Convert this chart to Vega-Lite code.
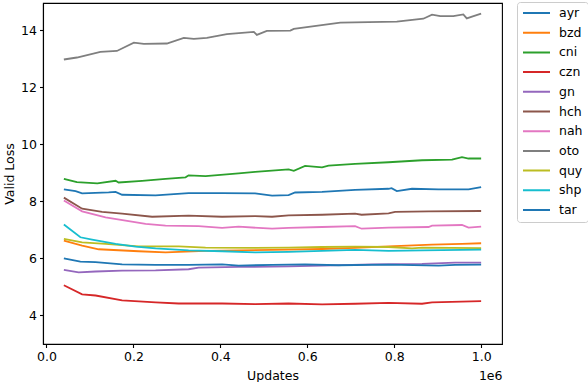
{
  "$schema": "https://vega.github.io/schema/vega-lite/v6.json",
  "autosize": {"type": "none"},
  "padding": {"left": 43, "top": 3, "right": 86, "bottom": 38},
  "width": 459,
  "height": 341,
  "background": "white",
  "config": {
    "font": "DejaVu Sans",
    "view": {"stroke": "black", "strokeWidth": 1.1},
    "axis": {
      "grid": false,
      "domainColor": "black",
      "domainWidth": 1.1,
      "tickColor": "black",
      "tickWidth": 1.1,
      "tickSize": 3.5,
      "labelFont": "DejaVu Sans",
      "labelFontSize": 12.5,
      "labelColor": "black",
      "labelPadding": 3,
      "titleFont": "DejaVu Sans",
      "titleFontSize": 12.5,
      "titleFontWeight": "normal",
      "titleColor": "black"
    },
    "legend": {
      "labelFont": "DejaVu Sans",
      "labelFontSize": 12.5,
      "labelColor": "black"
    }
  },
  "data": {
    "values": [
      {"lang": "ayr", "updates": 40000, "loss": 8.42},
      {"lang": "ayr", "updates": 67000, "loss": 8.36},
      {"lang": "ayr", "updates": 82000, "loss": 8.28},
      {"lang": "ayr", "updates": 143000, "loss": 8.31},
      {"lang": "ayr", "updates": 159000, "loss": 8.33},
      {"lang": "ayr", "updates": 174000, "loss": 8.23},
      {"lang": "ayr", "updates": 251000, "loss": 8.21},
      {"lang": "ayr", "updates": 327000, "loss": 8.29},
      {"lang": "ayr", "updates": 404000, "loss": 8.29},
      {"lang": "ayr", "updates": 480000, "loss": 8.28},
      {"lang": "ayr", "updates": 519000, "loss": 8.2},
      {"lang": "ayr", "updates": 557000, "loss": 8.22},
      {"lang": "ayr", "updates": 572000, "loss": 8.31},
      {"lang": "ayr", "updates": 634000, "loss": 8.33},
      {"lang": "ayr", "updates": 710000, "loss": 8.4},
      {"lang": "ayr", "updates": 787000, "loss": 8.44},
      {"lang": "ayr", "updates": 794000, "loss": 8.46},
      {"lang": "ayr", "updates": 806000, "loss": 8.36},
      {"lang": "ayr", "updates": 841000, "loss": 8.44},
      {"lang": "ayr", "updates": 902000, "loss": 8.42},
      {"lang": "ayr", "updates": 971000, "loss": 8.42},
      {"lang": "ayr", "updates": 1000000, "loss": 8.5},

      {"lang": "bzd", "updates": 40000, "loss": 6.62},
      {"lang": "bzd", "updates": 82000, "loss": 6.45},
      {"lang": "bzd", "updates": 120000, "loss": 6.32},
      {"lang": "bzd", "updates": 212000, "loss": 6.25},
      {"lang": "bzd", "updates": 274000, "loss": 6.21},
      {"lang": "bzd", "updates": 366000, "loss": 6.26},
      {"lang": "bzd", "updates": 442000, "loss": 6.28},
      {"lang": "bzd", "updates": 519000, "loss": 6.3},
      {"lang": "bzd", "updates": 634000, "loss": 6.33},
      {"lang": "bzd", "updates": 710000, "loss": 6.37},
      {"lang": "bzd", "updates": 787000, "loss": 6.42},
      {"lang": "bzd", "updates": 887000, "loss": 6.48},
      {"lang": "bzd", "updates": 956000, "loss": 6.51},
      {"lang": "bzd", "updates": 1000000, "loss": 6.53},

      {"lang": "cni", "updates": 40000, "loss": 8.79},
      {"lang": "cni", "updates": 70000, "loss": 8.67},
      {"lang": "cni", "updates": 117000, "loss": 8.63},
      {"lang": "cni", "updates": 159000, "loss": 8.72},
      {"lang": "cni", "updates": 166000, "loss": 8.66},
      {"lang": "cni", "updates": 220000, "loss": 8.72},
      {"lang": "cni", "updates": 274000, "loss": 8.79},
      {"lang": "cni", "updates": 320000, "loss": 8.84},
      {"lang": "cni", "updates": 327000, "loss": 8.91},
      {"lang": "cni", "updates": 366000, "loss": 8.88},
      {"lang": "cni", "updates": 442000, "loss": 8.98},
      {"lang": "cni", "updates": 480000, "loss": 9.03},
      {"lang": "cni", "updates": 557000, "loss": 9.12},
      {"lang": "cni", "updates": 569000, "loss": 9.07},
      {"lang": "cni", "updates": 595000, "loss": 9.24},
      {"lang": "cni", "updates": 634000, "loss": 9.19},
      {"lang": "cni", "updates": 649000, "loss": 9.25},
      {"lang": "cni", "updates": 710000, "loss": 9.31},
      {"lang": "cni", "updates": 787000, "loss": 9.37},
      {"lang": "cni", "updates": 864000, "loss": 9.44},
      {"lang": "cni", "updates": 933000, "loss": 9.46},
      {"lang": "cni", "updates": 956000, "loss": 9.55},
      {"lang": "cni", "updates": 971000, "loss": 9.5},
      {"lang": "cni", "updates": 1000000, "loss": 9.5},

      {"lang": "czn", "updates": 40000, "loss": 5.06},
      {"lang": "czn", "updates": 82000, "loss": 4.74},
      {"lang": "czn", "updates": 113000, "loss": 4.7},
      {"lang": "czn", "updates": 174000, "loss": 4.53},
      {"lang": "czn", "updates": 251000, "loss": 4.46},
      {"lang": "czn", "updates": 304000, "loss": 4.42},
      {"lang": "czn", "updates": 404000, "loss": 4.42},
      {"lang": "czn", "updates": 480000, "loss": 4.4},
      {"lang": "czn", "updates": 557000, "loss": 4.42},
      {"lang": "czn", "updates": 634000, "loss": 4.39},
      {"lang": "czn", "updates": 710000, "loss": 4.41},
      {"lang": "czn", "updates": 787000, "loss": 4.44},
      {"lang": "czn", "updates": 864000, "loss": 4.41},
      {"lang": "czn", "updates": 887000, "loss": 4.46},
      {"lang": "czn", "updates": 1000000, "loss": 4.5},

      {"lang": "gn", "updates": 40000, "loss": 5.6},
      {"lang": "gn", "updates": 74000, "loss": 5.51},
      {"lang": "gn", "updates": 113000, "loss": 5.54},
      {"lang": "gn", "updates": 174000, "loss": 5.57},
      {"lang": "gn", "updates": 251000, "loss": 5.58},
      {"lang": "gn", "updates": 327000, "loss": 5.62},
      {"lang": "gn", "updates": 350000, "loss": 5.68},
      {"lang": "gn", "updates": 442000, "loss": 5.7},
      {"lang": "gn", "updates": 557000, "loss": 5.72},
      {"lang": "gn", "updates": 634000, "loss": 5.75},
      {"lang": "gn", "updates": 749000, "loss": 5.79},
      {"lang": "gn", "updates": 864000, "loss": 5.81},
      {"lang": "gn", "updates": 940000, "loss": 5.85},
      {"lang": "gn", "updates": 1000000, "loss": 5.85},

      {"lang": "hch", "updates": 40000, "loss": 8.13},
      {"lang": "hch", "updates": 82000, "loss": 7.74},
      {"lang": "hch", "updates": 128000, "loss": 7.63},
      {"lang": "hch", "updates": 174000, "loss": 7.57},
      {"lang": "hch", "updates": 243000, "loss": 7.46},
      {"lang": "hch", "updates": 327000, "loss": 7.5},
      {"lang": "hch", "updates": 404000, "loss": 7.46},
      {"lang": "hch", "updates": 480000, "loss": 7.48},
      {"lang": "hch", "updates": 519000, "loss": 7.46},
      {"lang": "hch", "updates": 557000, "loss": 7.51},
      {"lang": "hch", "updates": 634000, "loss": 7.53},
      {"lang": "hch", "updates": 710000, "loss": 7.57},
      {"lang": "hch", "updates": 725000, "loss": 7.53},
      {"lang": "hch", "updates": 787000, "loss": 7.58},
      {"lang": "hch", "updates": 802000, "loss": 7.63},
      {"lang": "hch", "updates": 879000, "loss": 7.65},
      {"lang": "hch", "updates": 1000000, "loss": 7.66},

      {"lang": "nah", "updates": 40000, "loss": 8.03},
      {"lang": "nah", "updates": 82000, "loss": 7.65},
      {"lang": "nah", "updates": 136000, "loss": 7.44},
      {"lang": "nah", "updates": 228000, "loss": 7.21},
      {"lang": "nah", "updates": 274000, "loss": 7.15},
      {"lang": "nah", "updates": 350000, "loss": 7.13},
      {"lang": "nah", "updates": 404000, "loss": 7.07},
      {"lang": "nah", "updates": 442000, "loss": 7.11},
      {"lang": "nah", "updates": 519000, "loss": 7.04},
      {"lang": "nah", "updates": 557000, "loss": 7.07},
      {"lang": "nah", "updates": 634000, "loss": 7.1},
      {"lang": "nah", "updates": 710000, "loss": 7.13},
      {"lang": "nah", "updates": 725000, "loss": 7.04},
      {"lang": "nah", "updates": 787000, "loss": 7.08},
      {"lang": "nah", "updates": 879000, "loss": 7.1},
      {"lang": "nah", "updates": 887000, "loss": 7.15},
      {"lang": "nah", "updates": 956000, "loss": 7.17},
      {"lang": "nah", "updates": 971000, "loss": 7.08},
      {"lang": "nah", "updates": 1000000, "loss": 7.11},

      {"lang": "oto", "updates": 40000, "loss": 12.97},
      {"lang": "oto", "updates": 70000, "loss": 13.04},
      {"lang": "oto", "updates": 124000, "loss": 13.24},
      {"lang": "oto", "updates": 162000, "loss": 13.27},
      {"lang": "oto", "updates": 201000, "loss": 13.56},
      {"lang": "oto", "updates": 224000, "loss": 13.52},
      {"lang": "oto", "updates": 277000, "loss": 13.53},
      {"lang": "oto", "updates": 316000, "loss": 13.73},
      {"lang": "oto", "updates": 339000, "loss": 13.69},
      {"lang": "oto", "updates": 369000, "loss": 13.73},
      {"lang": "oto", "updates": 415000, "loss": 13.86},
      {"lang": "oto", "updates": 477000, "loss": 13.94},
      {"lang": "oto", "updates": 484000, "loss": 13.83},
      {"lang": "oto", "updates": 507000, "loss": 13.97},
      {"lang": "oto", "updates": 561000, "loss": 13.98},
      {"lang": "oto", "updates": 569000, "loss": 14.04},
      {"lang": "oto", "updates": 676000, "loss": 14.26},
      {"lang": "oto", "updates": 806000, "loss": 14.3},
      {"lang": "oto", "updates": 867000, "loss": 14.4},
      {"lang": "oto", "updates": 887000, "loss": 14.54},
      {"lang": "oto", "updates": 906000, "loss": 14.49},
      {"lang": "oto", "updates": 936000, "loss": 14.49},
      {"lang": "oto", "updates": 959000, "loss": 14.55},
      {"lang": "oto", "updates": 967000, "loss": 14.41},
      {"lang": "oto", "updates": 979000, "loss": 14.47},
      {"lang": "oto", "updates": 1000000, "loss": 14.58},

      {"lang": "quy", "updates": 40000, "loss": 6.68},
      {"lang": "quy", "updates": 82000, "loss": 6.56},
      {"lang": "quy", "updates": 136000, "loss": 6.51},
      {"lang": "quy", "updates": 212000, "loss": 6.42},
      {"lang": "quy", "updates": 304000, "loss": 6.42},
      {"lang": "quy", "updates": 366000, "loss": 6.38},
      {"lang": "quy", "updates": 480000, "loss": 6.37},
      {"lang": "quy", "updates": 557000, "loss": 6.38},
      {"lang": "quy", "updates": 634000, "loss": 6.4},
      {"lang": "quy", "updates": 710000, "loss": 6.41},
      {"lang": "quy", "updates": 787000, "loss": 6.4},
      {"lang": "quy", "updates": 841000, "loss": 6.35},
      {"lang": "quy", "updates": 864000, "loss": 6.38},
      {"lang": "quy", "updates": 1000000, "loss": 6.36},

      {"lang": "shp", "updates": 40000, "loss": 7.19},
      {"lang": "shp", "updates": 78000, "loss": 6.74},
      {"lang": "shp", "updates": 105000, "loss": 6.66},
      {"lang": "shp", "updates": 159000, "loss": 6.51},
      {"lang": "shp", "updates": 205000, "loss": 6.41},
      {"lang": "shp", "updates": 251000, "loss": 6.35},
      {"lang": "shp", "updates": 327000, "loss": 6.28},
      {"lang": "shp", "updates": 404000, "loss": 6.25},
      {"lang": "shp", "updates": 480000, "loss": 6.21},
      {"lang": "shp", "updates": 557000, "loss": 6.23},
      {"lang": "shp", "updates": 634000, "loss": 6.26},
      {"lang": "shp", "updates": 710000, "loss": 6.3},
      {"lang": "shp", "updates": 787000, "loss": 6.26},
      {"lang": "shp", "updates": 864000, "loss": 6.28},
      {"lang": "shp", "updates": 1000000, "loss": 6.31},

      {"lang": "tar", "updates": 40000, "loss": 6.0},
      {"lang": "tar", "updates": 78000, "loss": 5.89},
      {"lang": "tar", "updates": 113000, "loss": 5.87},
      {"lang": "tar", "updates": 174000, "loss": 5.79},
      {"lang": "tar", "updates": 251000, "loss": 5.77},
      {"lang": "tar", "updates": 327000, "loss": 5.77},
      {"lang": "tar", "updates": 404000, "loss": 5.79},
      {"lang": "tar", "updates": 442000, "loss": 5.75},
      {"lang": "tar", "updates": 519000, "loss": 5.77},
      {"lang": "tar", "updates": 595000, "loss": 5.79},
      {"lang": "tar", "updates": 672000, "loss": 5.76},
      {"lang": "tar", "updates": 787000, "loss": 5.78},
      {"lang": "tar", "updates": 902000, "loss": 5.75},
      {"lang": "tar", "updates": 940000, "loss": 5.77},
      {"lang": "tar", "updates": 1000000, "loss": 5.78}
    ]
  },
  "layer": [
    {
      "mark": {"type": "line", "strokeWidth": 1.8, "clip": true},
      "encoding": {
        "x": {
          "field": "updates",
          "type": "quantitative",
          "scale": {"domain": [-8000, 1048000], "nice": false, "zero": false},
          "axis": {
            "title": "Updates",
            "values": [0, 200000, 400000, 600000, 800000, 1000000],
            "labelExpr": "format(datum.value / 1000000, '.1f')",
            "titleY": 35,
            "titleBaseline": "alphabetic"
          }
        },
        "y": {
          "field": "loss",
          "type": "quantitative",
          "scale": {"domain": [3, 14.95], "nice": false, "zero": false},
          "axis": {
            "title": "Valid Loss",
            "values": [4, 6, 8, 10, 12, 14],
            "titleAngle": 270,
            "titleX": -30,
            "titleY": 170.5,
            "titleAlign": "center",
            "titleBaseline": "alphabetic"
          }
        },
        "color": {
          "field": "lang",
          "type": "nominal",
          "scale": {
            "domain": ["ayr", "bzd", "cni", "czn", "gn", "hch", "nah", "oto", "quy", "shp", "tar"],
            "range": ["#1f77b4", "#ff7f0e", "#2ca02c", "#d62728", "#9467bd", "#8c564b", "#e377c2", "#7f7f7f", "#bcbd22", "#17becf", "#1f77b4"]
          },
          "legend": {
            "title": null,
            "orient": "none",
            "legendX": 474,
            "legendY": -1,
            "symbolType": "stroke",
            "symbolSize": 729,
            "symbolStrokeWidth": 2,
            "clipHeight": 12,
            "rowPadding": 6.7,
            "labelOffset": 8,
            "labelAlign": "left",
            "padding": 5,
            "strokeColor": "#cccccc",
            "fillColor": "white",
            "cornerRadius": 3
          }
        }
      }
    },
    {
      "mark": {"type": "rule", "strokeOpacity": 0},
      "encoding": {
        "x": {
          "field": "updates",
          "type": "quantitative",
          "axis": {
            "orient": "bottom",
            "title": "1e6",
            "labels": false,
            "ticks": false,
            "domain": false,
            "titleX": 459,
            "titleY": 35,
            "titleAlign": "right",
            "titleAnchor": "end",
            "titleBaseline": "alphabetic"
          }
        }
      }
    }
  ],
  "resolve": {"axis": {"x": "independent"}}
}
